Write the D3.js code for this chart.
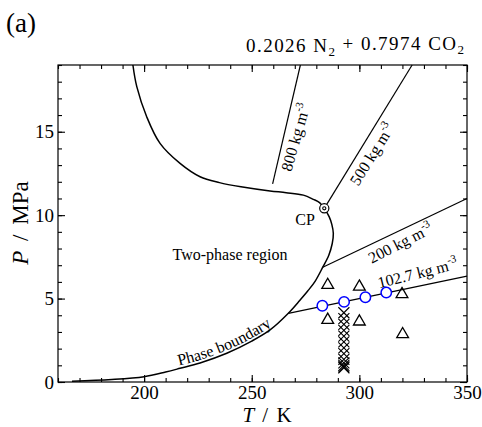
<!DOCTYPE html>
<html>
<head>
<meta charset="utf-8">
<script src="https://cdn.jsdelivr.net/npm/d3@7"></script>
<style>
  body { margin: 0; background: #fff; }
  svg { display: block; }
  svg text { font-family: "Liberation Serif", "Times New Roman", serif; }
</style>
</head>
<body>
<svg id="chart" width="482" height="427" font-family="Liberation Serif"></svg>
<script>
// phase boundary, from the low-T end up to the critical point (T / K, P / MPa)
const boundaryLowT = [166.5, 185, 200, 210, 216.7, 226, 238.4, 250, 258.5, 267, 272.4, 276, 279.5, 283, 285.8, 287.4, 287.9, 287.2, 286, 283.7];
const boundaryLowP = [0.05, 0.15, 0.32, 0.6, 0.82, 1.14, 1.72, 2.45, 3.12, 4.12, 4.9, 5.45, 6.05, 6.88, 7.6, 8.3, 8.9, 9.45, 9.9, 10.41];
// from the critical point up to the top of the frame
const boundaryHighT = [283.7, 281.5, 278.6, 274, 266, 258.5, 245, 235, 226, 216.7, 207.4, 201.2, 196.6, 194.8];
const boundaryHighP = [10.41, 10.75, 10.95, 11.2, 11.35, 11.45, 11.7, 11.95, 12.3, 13.1, 14.3, 15.9, 17.7, 19];

// critical point
const cpT = 283.7, cpP = 10.41;

// isochores (end points)
const isoNames = ["800", "500", "200", "102.7"];
const isoT = [[259.7, 272.6], [283.7, 324.5], [283, 350], [267, 350]];
const isoP = [[11.87, 19], [10.41, 19], [6.88, 11.0], [4.11, 6.35]];

// measured states
const circleT = [282.8, 292.9, 302.8, 312.5];
const circleP = [4.57, 4.80, 5.08, 5.36];
const triT = [285.3, 300, 319.8, 285.3, 300, 320.1];
const triP = [5.81, 5.71, 5.26, 3.72, 3.62, 2.86];
const crossT = 292.8;
const crossP = [4.15, 3.8, 3.45, 3.1, 2.75, 2.4, 2.05, 1.7, 1.35, 1.15, 1.0, 0.9, 0.85];

// axes
const xMajor = [200, 250, 300, 350];
const yMajor = [0, 5, 10, 15];

const svg = d3.select("#chart");
const margin = {left: 58, right: 15, top: 65, bottom: 45};
const W = 482, H = 427;

const x = d3.scaleLinear().domain([160, 350]).range([margin.left, W - margin.right]);
const y = d3.scaleLinear().domain([0, 19]).range([H - margin.bottom, margin.top]);

const x0 = x.range()[0], x1 = x.range()[1], y0 = y.range()[0], y1 = y.range()[1];

// ticks, all pointing in
function styleAxis(g) {
  g.attr("font-family", "Liberation Serif");
  g.select(".domain").remove();
  g.selectAll("line").attr("stroke", "#000").attr("stroke-width", 1.1);
  g.selectAll("text").attr("font-size", 19).attr("fill", "#000");
}
const xMinor = d3.range(160, 351, 10);
const yMinor = d3.range(0, 19.01, 1);

svg.append("g").attr("transform", `translate(0,${y0})`)
  .call(d3.axisBottom(x).tickValues(xMajor).tickSize(-7).tickPadding(4).tickFormat(d3.format("d")))
  .call(styleAxis);
svg.append("g").attr("transform", `translate(0,${y0})`)
  .call(d3.axisBottom(x).tickValues(xMinor).tickSize(-4).tickFormat(""))
  .call(styleAxis);
svg.append("g").attr("transform", `translate(0,${y1})`)
  .call(d3.axisTop(x).tickValues(xMajor).tickSize(-7).tickFormat(""))
  .call(styleAxis);
svg.append("g").attr("transform", `translate(0,${y1})`)
  .call(d3.axisTop(x).tickValues(xMinor).tickSize(-4).tickFormat(""))
  .call(styleAxis);
svg.append("g").attr("transform", `translate(${x0},0)`)
  .call(d3.axisLeft(y).tickValues(yMajor).tickSize(-7).tickPadding(4).tickFormat(d3.format("d")))
  .call(styleAxis);
svg.append("g").attr("transform", `translate(${x0},0)`)
  .call(d3.axisLeft(y).tickValues(yMinor).tickSize(-4).tickFormat(""))
  .call(styleAxis);
svg.append("g").attr("transform", `translate(${x1},0)`)
  .call(d3.axisRight(y).tickValues(yMajor).tickSize(-7).tickFormat(""))
  .call(styleAxis);
svg.append("g").attr("transform", `translate(${x1},0)`)
  .call(d3.axisRight(y).tickValues(yMinor).tickSize(-4).tickFormat(""))
  .call(styleAxis);

svg.append("rect")
  .attr("x", x0).attr("y", y1).attr("width", x1 - x0).attr("height", y0 - y1)
  .attr("fill", "none").attr("stroke", "#000").attr("stroke-width", 1.2);

// phase boundary
const lowPts = boundaryLowT.map((t, i) => [t, boundaryLowP[i]]);
const highPts = boundaryHighT.map((t, i) => [t, boundaryHighP[i]]);
const boundary = lowPts.concat(highPts.slice(1));

const line = d3.line().x(d => x(d[0])).y(d => y(d[1])).curve(d3.curveCatmullRom.alpha(0.5));

svg.append("path")
  .attr("d", line(boundary))
  .attr("fill", "none").attr("stroke", "#000").attr("stroke-width", 1.5);

// isochores
isoNames.forEach((name, i) => {
  svg.append("line")
    .attr("x1", x(isoT[i][0])).attr("y1", y(isoP[i][0]))
    .attr("x2", x(isoT[i][1])).attr("y2", y(isoP[i][1]))
    .attr("stroke", "#000").attr("stroke-width", 1.2);
});

// isochore labels (placement in data units, rotation in degrees)
const isoLabelT = [270.1, 305.7, 318.9, 327];
const isoLabelP = [14.68, 13.67, 8.36, 6.56];
const isoLabelA = [-74, -58, -27, -14];
isoNames.forEach((name, i) => {
  const t = svg.append("text")
    .attr("transform", `translate(${x(isoLabelT[i])},${y(isoLabelP[i])}) rotate(${isoLabelA[i]})`)
    .attr("text-anchor", "middle").attr("dominant-baseline", "central")
    .attr("font-size", 16);
  t.append("tspan").text(name + " kg m");
  t.append("tspan").attr("dy", "-0.45em").attr("font-size", 11).text("-3");
});

// critical point marker
svg.append("circle").attr("cx", x(cpT)).attr("cy", y(cpP)).attr("r", 4.6)
  .attr("fill", "#fff").attr("stroke", "#000").attr("stroke-width", 1.2);
svg.append("circle").attr("cx", x(cpT)).attr("cy", y(cpP)).attr("r", 1.6)
  .attr("fill", "#fff").attr("stroke", "#000").attr("stroke-width", 1.1);

// crosses
const xs = 5.5;
svg.append("g").selectAll("path").data(crossP).join("path")
  .attr("d", p => {
    const cx = x(crossT), cy = y(p);
    return `M${cx - xs},${cy - xs}L${cx + xs},${cy + xs}M${cx - xs},${cy + xs}L${cx + xs},${cy - xs}`;
  })
  .attr("stroke", "#000").attr("stroke-width", 1.1).attr("fill", "none");

// triangles
const tri = d3.symbol().type(d3.symbolTriangle).size(60);
svg.append("g").selectAll("path").data(triT).join("path")
  .attr("transform", (t, i) => `translate(${x(t)},${y(triP[i])})`)
  .attr("d", tri)
  .attr("fill", "none").attr("stroke", "#000").attr("stroke-width", 1.3);

// blue circles
svg.append("g").selectAll("circle").data(circleT).join("circle")
  .attr("cx", t => x(t)).attr("cy", (t, i) => y(circleP[i])).attr("r", 5.2)
  .attr("fill", "#fff").attr("stroke", "#0000ff").attr("stroke-width", 1.5);

// region labels
svg.append("text").attr("x", 230).attr("y", 259.5).attr("text-anchor", "middle")
  .attr("font-size", 16).text("Two-phase region");
svg.append("text").attr("x", 305).attr("y", 225).attr("text-anchor", "middle")
  .attr("font-size", 16).text("CP");

// "Phase boundary" follows the curve
const labelPath = svg.append("path")
  .attr("id", "pbPath")
  .attr("d", line(lowPts))
  .attr("transform", "translate(0,-3)")
  .attr("fill", "none").attr("stroke", "none");
const node = labelPath.node();
const total = node.getTotalLength();
let best = 0, bestD = 1e9;
for (let s = 0; s <= total; s += 1) {
  const p = node.getPointAtLength(s);
  const dd = Math.abs(p.x - 227);
  if (dd < bestD) { bestD = dd; best = s; }
}
svg.append("text").attr("font-size", 16)
  .append("textPath").attr("href", "#pbPath")
  .attr("startOffset", best).attr("text-anchor", "middle")
  .text("Phase boundary");

// axis titles
const xt = svg.append("text").attr("x", 267).attr("y", 422).attr("text-anchor", "middle")
  .attr("font-size", 21).style("word-spacing", "3px");
xt.append("tspan").attr("font-style", "italic").text("T");
xt.append("tspan").text(" / K");
const yt = svg.append("text").attr("transform", "translate(28,223) rotate(-90)").attr("text-anchor", "middle")
  .attr("font-size", 23).style("word-spacing", "4px");
yt.append("tspan").attr("font-style", "italic").text("P");
yt.append("tspan").text(" / MPa");

// panel letter and mixture
svg.append("text").attr("x", 6).attr("y", 32).attr("font-size", 27).text("(a)");
const mt = svg.append("text").attr("x", 464).attr("y", 52).attr("text-anchor", "end")
  .attr("font-size", 19).attr("textLength", 218).attr("lengthAdjust", "spacing");
mt.append("tspan").text("0.2026 N");
mt.append("tspan").attr("dy", "0.3em").attr("font-size", 13).text("2");
mt.append("tspan").attr("dy", "-0.3em").text(" + 0.7974 CO");
mt.append("tspan").attr("dy", "0.3em").attr("font-size", 13).text("2");
</script>
</body>
</html>
